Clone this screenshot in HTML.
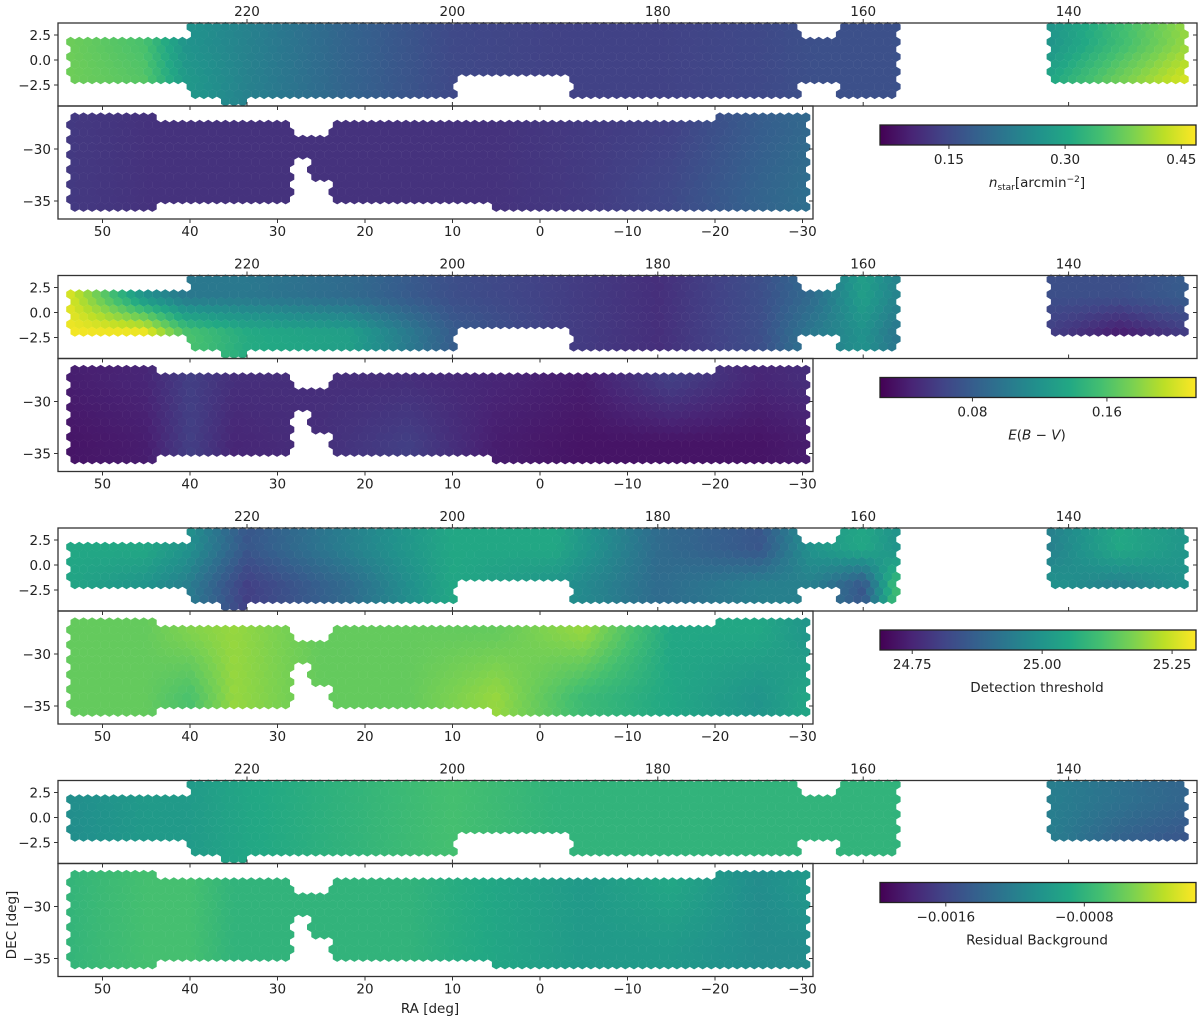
<!DOCTYPE html>
<html><head><meta charset="utf-8"><style>
html,body{margin:0;padding:0;background:#fff;}
svg text{font-family:"DejaVu Sans","Liberation Sans",sans-serif;fill:#222;}
</style></head><body>
<svg id="fig" width="1200" height="1021" viewBox="0 0 1200 1021" xmlns="http://www.w3.org/2000/svg">
<defs>
<linearGradient id="viridis" x1="0" x2="1" y1="0" y2="0">
<stop offset="0" stop-color="#440154"/><stop offset="0.1" stop-color="#482475"/><stop offset="0.2" stop-color="#414487"/><stop offset="0.3" stop-color="#355f8d"/><stop offset="0.4" stop-color="#2a788e"/><stop offset="0.5" stop-color="#21918c"/><stop offset="0.6" stop-color="#22a884"/><stop offset="0.7" stop-color="#44bf70"/><stop offset="0.8" stop-color="#7ad151"/><stop offset="0.9" stop-color="#bddf26"/><stop offset="1" stop-color="#fde725"/>
</linearGradient>
</defs>
</svg>
<script>
// ---- data ----
const topTickRA = [220, 200, 180, 160, 140];
const topTickDec = [2.5, 0.0, -2.5];
const botTickRA = [50, 40, 30, 20, 10, 0, -10, -20, -30];
const botTickDec = [-30, -35];
// footprint rectangles [raHigh, raLow, decHigh, decLow]
const topRects = [[237.5,225.7,2.4,-2.1],[225.7,209,3.3,-3.5],[222.8,219.8,-3.5,-4.5],[209,199.6,3.3,-3.5],[199.6,188.4,3.3,-1.4],[188.4,166,3.3,-3.5],[166,162.3,2.5,-2.1],[162.3,156.7,3.3,-3.5],[142,128.4,3.3,-2.4]];
const botRects = [[54,43.4,-26.6,-36],[43.4,28.1,-27.2,-35],[28.1,23.8,-28.4,-35],[23.8,5,-27.2,-35],[5,-20.3,-27.2,-36],[-20.3,-30.4,-26.6,-36]];
const botHoles = [[28.1,26.3,-31,-35.5],[26.3,23.8,-33.1,-35.5]];
// value nodes
const topNodesRA = [238, 230, 226, 220, 210, 200, 190, 180, 170, 165, 160, 157, 142, 135, 128];
const botNodesRA = [55, 45, 40, 35, 25, 15, 5, -5, -15, -25, -31];
const nstarTopN = [0.38,0.35,0.27,0.24,0.19,0.15,0.14,0.14,0.15,0.16,0.16,0.16,0.27,0.34,0.41];
const nstarTopS = [0.38,0.36,0.28,0.24,0.19,0.15,0.14,0.14,0.15,0.16,0.16,0.16,0.30,0.38,0.45];
const nstarBotN = [0.13,0.12,0.12,0.12,0.12,0.12,0.12,0.13,0.14,0.18,0.20];
const nstarBotS = [0.13,0.12,0.12,0.12,0.12,0.12,0.12,0.13,0.15,0.19,0.21];
const ebvTopN = [0.21,0.12,0.10,0.10,0.09,0.07,0.06,0.05,0.07,0.09,0.13,0.11,0.07,0.07,0.08];
const ebvTopS = [0.21,0.21,0.16,0.14,0.13,0.08,0.06,0.05,0.07,0.10,0.12,0.10,0.06,0.04,0.06];
const ebvBotN = [0.04,0.045,0.06,0.05,0.05,0.05,0.045,0.04,0.06,0.045,0.05];
const ebvBotS = [0.035,0.04,0.06,0.045,0.05,0.06,0.04,0.035,0.035,0.035,0.04];
const detTopN = [25.05,25.05,25.0,24.85,24.95,25.05,25.05,24.9,24.85,25.0,25.05,25.0,24.95,25.05,25.0];
const detTopS = [25.05,25.0,24.95,24.8,24.9,25.05,25.0,24.9,24.95,24.95,24.85,25.1,25.0,24.95,25.0];
const detBotN = [25.15,25.15,25.18,25.2,25.15,25.15,25.15,25.2,25.05,25.05,25.0];
const detBotS = [25.15,25.15,25.12,25.2,25.15,25.15,25.2,25.1,25.05,25.0,25.05];
const resTopN = [-0.0011,-0.0010,-0.0010,-0.0009,-0.0008,-0.0007,-0.0008,-0.0008,-0.0008,-0.0008,-0.0008,-0.0008,-0.0012,-0.0013,-0.0014];
const resTopS = [-0.0011,-0.0010,-0.0010,-0.0009,-0.0008,-0.0007,-0.0008,-0.0008,-0.0008,-0.0008,-0.0008,-0.0008,-0.0012,-0.0014,-0.0015];
const resBotN = [-0.0008,-0.0007,-0.0007,-0.0008,-0.0008,-0.0008,-0.0009,-0.001,-0.0009,-0.0011,-0.001];
const resBotS = [-0.0008,-0.0007,-0.0007,-0.0008,-0.0008,-0.0008,-0.0009,-0.001,-0.001,-0.0011,-0.0011];
const cbarTicks1 = [0.15, 0.30, 0.45];
const cbarTicks2 = [0.08, 0.16];
const cbarTicks3 = [24.75, 25.00, 25.25];
const cbarTicks4 = [-0.0016, -0.0008];

const maps = [
 {name:'nstar', vmin:0.061, vmax:0.469, tN:nstarTopN, tS:nstarTopS, bN:nstarBotN, bS:nstarBotS, ticks:cbarTicks1, fmt:v=>v.toFixed(2), label:'nstar'},
 {name:'ebv', vmin:0.025, vmax:0.213, tN:ebvTopN, tS:ebvTopS, bN:ebvBotN, bS:ebvBotS, ticks:cbarTicks2, fmt:v=>v.toFixed(2), label:'ebv'},
 {name:'detection', vmin:24.688, vmax:25.296, tN:detTopN, tS:detTopS, bN:detBotN, bS:detBotS, ticks:cbarTicks3, fmt:v=>v.toFixed(2), label:'Detection threshold'},
 {name:'residual', vmin:-0.00198, vmax:-0.000155, tN:resTopN, tS:resTopS, bN:resBotN, bS:resBotS, ticks:cbarTicks4, fmt:v=>'\u2212'+Math.abs(v).toFixed(4), label:'Residual Background'}
];

const vir = [[68,1,84],[72,36,117],[65,68,135],[53,95,141],[42,120,142],[33,145,140],[34,168,132],[68,191,112],[122,209,81],[189,223,38],[253,231,37]];
function viridis(t){t=Math.max(0,Math.min(1,t));const f=t*10,i=Math.min(9,Math.floor(f)),u=f-i;const a=vir[i],b=vir[i+1];return 'rgb('+a.map((c,k)=>Math.round(c+(b[k]-c)*u)).join(',')+')';}
function interp(nodes, vals, x){
  if(x>=nodes[0]) return vals[0];
  for(let i=0;i<nodes.length-1;i++){ if(x<=nodes[i]&&x>=nodes[i+1]){const u=(nodes[i]-x)/(nodes[i]-nodes[i+1]);return vals[i]+(vals[i+1]-vals[i])*u;} }
  return vals[vals.length-1];
}
const svg = document.getElementById('fig');
const NS='http://www.w3.org/2000/svg';
function el(tag, attrs, parent){const e=document.createElementNS(NS,tag);for(const k in attrs)e.setAttribute(k,attrs[k]);(parent||svg).appendChild(e);return e;}
function txt(s, x, y, anchor, size, parent){const t=el('text',{x:x,y:y,'text-anchor':anchor,'font-size':size},parent);t.textContent=s;return t;}
const minus = v=> (v<0?'\u2212':'')+Math.abs(v);

const L=58, RT=1197, RB=813;
const xTop = ra => 247 + (220-ra)*10.27;
const raTop = x => 220 - (x-247)/10.27;
const xBot = ra => 540 - 8.75*ra;
const raBot = x => (540-x)/8.75;
const inR = (r,ra,dec)=> ra<=r[0]&&ra>=r[1]&&dec<=r[2]&&dec>=r[3];
const DX=8.6, HR=DX/Math.sqrt(3), DY=HR*1.5;
function hexPts(cx,cy){let p=[];for(let k=0;k<6;k++){const a=Math.PI/180*(60*k-30);p.push((cx+HR*1.02*Math.cos(a)).toFixed(1)+','+(cy+HR*1.02*Math.sin(a)).toFixed(1));}return p.join(' ');}

maps.forEach((m,gi)=>{
  const T = 23 + 252.5*gi;
  const g = el('g',{});
  
  
  const yTopDec = d => T + 37 - d*10;
  const decTop = y => (T+37-y)/10;
  const yBotDec = d => T + 126 + (-30-d)*10.4;
  const decBot = y => -30 - (y-T-126)/10.4;
  const hg = el('g',{},g);
  
  
  let row=0;
  for(let y=T+4;y<T+82;y+=DY,row++){
    for(let x=L+4+(row%2?DX/2:0);x<RT;x+=DX){
      const ra=raTop(x), dec=decTop(y);
      if(!topRects.some(r=>inR(r,ra,dec))) continue;
      const vN=interp(topNodesRA,m.tN,ra), vS=interp(topNodesRA,m.tS,ra);
      const u=Math.max(0,Math.min(1,(1.5-dec)/3.5));
      const v=vN+(vS-vN)*u;
      const p=el('polygon',{points:hexPts(x,y),fill:viridis((v-m.vmin)/(m.vmax-m.vmin))},hg);
      
      
    }
  }
  const hb = el('g',{},g);
  
  
  row=0;
  for(let y=T+87;y<T+195;y+=DY,row++){
    for(let x=L+4+(row%2?DX/2:0);x<RB;x+=DX){
      const ra=raBot(x), dec=decBot(y);
      if(!botRects.some(r=>inR(r,ra,dec))) continue;
      if(botHoles.some(r=>inR(r,ra,dec))) continue;
      const vN=interp(botNodesRA,m.bN,ra), vS=interp(botNodesRA,m.bS,ra);
      const u=Math.max(0,Math.min(1,(-28-dec)/6));
      const v=vN+(vS-vN)*u;
      const p=el('polygon',{points:hexPts(x,y),fill:viridis((v-m.vmin)/(m.vmax-m.vmin))},hb);
      
      
    }
  }
  const f1=el('rect',{x:L,y:T,width:RT-L,height:83,fill:'none',stroke:'#333','stroke-width':1.3},g);
  
  
  const f2=el('rect',{x:L,y:T+83,width:RB-L,height:113,fill:'none',stroke:'#333','stroke-width':1.3},g);
  
  
  topTickRA.forEach(ra=>{const x=xTop(ra);
    el('line',{x1:x,x2:x,y1:T,y2:T-4,stroke:'#333'},g);
    el('line',{x1:x,x2:x,y1:T+83,y2:T+79,stroke:'#333'},g);
    const t=txt(String(ra),x,T-7,'middle',13.5,g);
    
    });
  topTickDec.forEach(d=>{const y=yTopDec(d);
    el('line',{x1:L,x2:L-4,y1:y,y2:y,stroke:'#333'},g);
    el('line',{x1:RT,x2:RT-4,y1:y,y2:y,stroke:'#333'},g);
    const t=txt('',L-7,y+5,'end',13.5,g);
    t.textContent = (d<0?'\u2212':'')+Math.abs(d).toFixed(1);
    
    });
  botTickRA.forEach(ra=>{const x=xBot(ra);
    el('line',{x1:x,x2:x,y1:T+196,y2:T+200,stroke:'#333'},g);
    el('line',{x1:x,x2:x,y1:T+83,y2:T+87,stroke:'#333'},g);
    const t=txt(minus(ra),x,T+213,'middle',13.5,g);
    
    });
  botTickDec.forEach(d=>{const y=yBotDec(d);
    el('line',{x1:L,x2:L-4,y1:y,y2:y,stroke:'#333'},g);
    el('line',{x1:RB,x2:RB-4,y1:y,y2:y,stroke:'#333'},g);
    const t=txt(minus(d),L-7,y+5,'end',13.5,g);
    
    });
  const cx0=880, cx1=1196, cy=T+102, ch=20;
  const cb=el('rect',{x:cx0,y:cy,width:cx1-cx0,height:ch,fill:'url(#viridis)',stroke:'#222','stroke-width':1.3},g);
  
  
  m.ticks.forEach(v=>{const x=cx0+(v-m.vmin)/(m.vmax-m.vmin)*(cx1-cx0);
    el('line',{x1:x,x2:x,y1:cy+ch,y2:cy+ch+4,stroke:'#333'},g);
    const t=txt(m.fmt(v),x,cy+ch+19,'middle',13.5,g);
    
    });
  let lab;
  if(m.label==='nstar'){
    lab=el('text',{x:1037,y:cy+62,'text-anchor':'middle','font-size':13.5},g);
    lab.innerHTML='<tspan font-style="italic">n</tspan><tspan font-size="9" dy="3">star</tspan><tspan dy="-3">[arcmin</tspan><tspan font-size="9" dy="-5">\u22122</tspan><tspan dy="5">]</tspan>';
  } else if(m.label==='ebv'){
    lab=el('text',{x:1037,y:cy+62,'text-anchor':'middle','font-size':13.5},g);
    lab.innerHTML='<tspan font-style="italic">E</tspan>(<tspan font-style="italic">B</tspan> \u2212 <tspan font-style="italic">V</tspan>)';
  } else {
    lab=txt(m.label,1037,cy+62,'middle',13.5,g);
  }
  
  
});
const xl=txt('RA [deg]',430,1013,'middle',13.5);


const yl=txt('DEC [deg]',0,0,'middle',13.5);
yl.setAttribute('transform','translate(16,925) rotate(-90)');


</script>
</body></html>
